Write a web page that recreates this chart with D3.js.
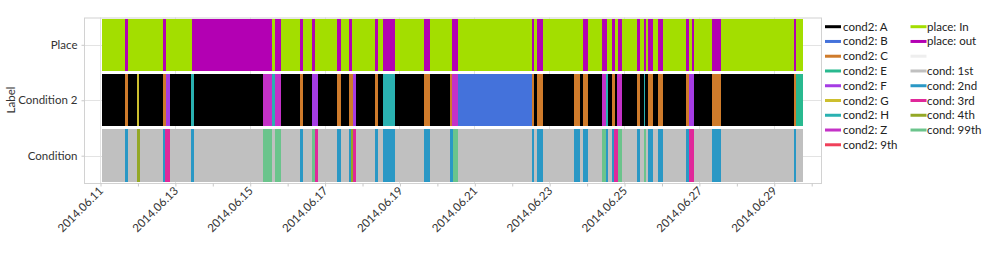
<!DOCTYPE html>
<html>
<head>
<meta charset="utf-8">
<script src="https://cdn.jsdelivr.net/npm/d3@7"></script>
<style>
  html, body { margin: 0; padding: 0; background: #fff; }
  svg { display: block; font-family: Lato, "Noto Sans", sans-serif; }
</style>
</head>
<body>
<svg id="chart" width="998" height="259"></svg>
<script>
// ---------------- DATA ----------------
const rowLabels = ["Place", "Condition 2", "Condition"];
const yTitle = "Label";
const dataEnd = "06-29 18:46";

// change points: [time (2014-MM-DD HH:MM), category]
const placeChanges = [
  ["06-11 01:05","In"],["06-11 16:02","out"],["06-11 17:57","In"],["06-12 16:24","out"],["06-12 18:31","In"],
  ["06-13 10:59","out"],["06-15 14:06","In"],["06-15 16:13","out"],["06-15 19:52","In"],["06-16 08:14","out"],
  ["06-16 10:10","In"],["06-16 16:08","out"],["06-16 17:52","In"],["06-17 08:10","out"],["06-17 10:20","In"],
  ["06-17 15:51","out"],["06-17 17:23","In"],["06-18 08:20","out"],["06-18 10:04","In"],["06-18 13:16","out"],
  ["06-18 21:09","In"],["06-19 15:56","out"],["06-19 19:47","In"],["06-20 09:42","out"],["06-20 13:44","In"],
  ["06-22 12:49","out"],["06-22 14:29","In"],["06-22 16:12","out"],["06-22 20:15","In"],["06-23 21:53","out"],
  ["06-24 01:06","In"],["06-24 09:41","out"],["06-24 12:54","In"],["06-24 16:06","out"],["06-24 18:13","In"],
  ["06-24 19:57","out"],["06-24 22:31","In"],["06-25 08:19","out"],["06-25 10:26","In"],["06-25 12:37","out"],
  ["06-25 14:05","In"],["06-25 15:34","out"],["06-25 18:47","In"],["06-25 21:59","out"],["06-26 00:48","In"],
  ["06-26 15:44","out"],["06-26 17:52","In"],["06-26 19:47","out"],["06-26 20:52","In"],["06-27 08:13","out"],
  ["06-27 13:59","In"],["06-29 12:48","out"],["06-29 14:16","In"]
];

const cond2Changes = [
  ["06-11 01:05","A"],["06-11 16:02","C"],["06-11 17:57","A"],["06-11 23:43","G"],["06-12 01:12","A"],
  ["06-12 16:12","C"],["06-12 18:08","F"],["06-12 20:53","A"],["06-13 10:21","H"],["06-13 12:05","A"],
  ["06-15 08:19","Z"],["06-15 14:29","H"],["06-15 16:13","Z"],["06-15 19:52","A"],["06-16 08:14","C"],
  ["06-16 10:10","A"],["06-16 16:08","F"],["06-16 19:35","A"],["06-17 08:10","C"],["06-17 10:20","A"],
  ["06-17 15:51","C"],["06-17 18:25","F"],["06-17 20:09","A"],["06-18 08:20","C"],["06-18 10:04","A"],
  ["06-18 13:16","H"],["06-18 21:09","A"],["06-19 15:56","C"],["06-19 19:47","A"],["06-20 08:25","C"],
  ["06-20 09:53","Z"],["06-20 13:44","B"],["06-22 12:49","C"],["06-22 14:29","A"],["06-22 16:12","C"],
  ["06-22 20:15","A"],["06-23 16:07","C"],["06-23 19:47","A"],["06-23 21:53","C"],["06-24 01:06","A"],
  ["06-24 09:41","Z"],["06-24 12:27","H"],["06-24 13:55","A"],["06-24 16:06","C"],["06-24 17:54","A"],
  ["06-24 19:30","Z"],["06-24 22:31","A"],["06-25 08:19","C"],["06-25 10:26","A"],["06-25 12:37","C"],
  ["06-25 12:53","H"],["06-25 13:43","A"],["06-25 15:34","C"],["06-25 18:47","A"],["06-25 21:59","C"],
  ["06-26 00:48","A"],["06-26 15:44","C"],["06-26 17:52","F"],["06-26 20:52","A"],["06-27 08:13","C"],
  ["06-27 13:59","A"],["06-29 12:48","C"],["06-29 14:05","E"]
];

const condChanges = [
  ["06-11 01:05","1st"],["06-11 16:02","2nd"],["06-11 18:09","1st"],["06-11 23:32","4th"],["06-12 01:27","1st"],
  ["06-12 16:12","2nd"],["06-12 17:52","3rd"],["06-12 20:53","1st"],["06-13 10:21","2nd"],["06-13 12:05","1st"],
  ["06-15 08:19","99th"],["06-15 14:29","1st"],["06-15 16:13","99th"],["06-15 19:52","1st"],["06-16 08:14","2nd"],
  ["06-16 10:10","1st"],["06-16 16:08","99th"],["06-16 17:40","3rd"],["06-16 19:35","1st"],["06-17 08:10","2nd"],
  ["06-17 10:20","1st"],["06-17 15:51","2nd"],["06-17 16:45","4th"],["06-17 18:02","3rd"],["06-17 20:09","1st"],
  ["06-18 08:20","2nd"],["06-18 10:04","1st"],["06-18 13:16","2nd"],["06-18 21:09","1st"],["06-19 15:56","2nd"],
  ["06-19 19:47","1st"],["06-20 08:25","2nd"],["06-20 10:09","99th"],["06-20 13:44","1st"],["06-22 12:49","2nd"],
  ["06-22 14:29","1st"],["06-22 16:12","2nd"],["06-22 20:15","1st"],["06-23 16:07","2nd"],["06-23 19:47","1st"],
  ["06-23 21:53","2nd"],["06-24 01:06","1st"],["06-24 09:41","99th"],["06-24 12:27","2nd"],["06-24 13:55","1st"],
  ["06-24 16:06","2nd"],["06-24 17:46","3rd"],["06-24 20:20","99th"],["06-24 22:31","1st"],["06-25 08:19","2nd"],
  ["06-25 10:26","1st"],["06-25 12:37","99th"],["06-25 14:05","1st"],["06-25 15:34","2nd"],["06-25 18:47","1st"],
  ["06-25 21:59","2nd"],["06-26 00:48","1st"],["06-26 15:44","2nd"],["06-26 17:52","3rd"],["06-26 20:52","1st"],
  ["06-27 08:13","2nd"],["06-27 13:59","1st"],["06-29 12:48","2nd"],["06-29 14:05","1st"]
];

const xTickStart = "06-11 00:00";
const xTickEnd = "06-30 00:00";

const legendCol1 = ["cond2: A","cond2: B","cond2: C","cond2: E","cond2: F","cond2: G","cond2: H","cond2: Z","cond2: 9th"];
const legendCol2 = ["place: In","place: out","","cond: 1st","cond: 2nd","cond: 3rd","cond: 4th","cond: 99th"];
const colorKeys = ["cond2: A","cond2: B","cond2: C","cond2: E","cond2: F","cond2: G","cond2: H","cond2: Z","cond2: 9th",
                   "place: In","place: out","","cond: 1st","cond: 2nd","cond: 3rd","cond: 4th","cond: 99th"];
const colorVals = ["#000000","#4472db","#cf7b2b","#29b98f","#a53ce4","#cdbf2e","#2ab1b1","#c431c7","#f0405a",
                   "#a3de00","#b300b3","#eeeeee","#c0c0c0","#2a98c5","#e0289a","#94a826","#6bc48c"];

// ---------------- CHART ----------------
const FONT = 'Lato, "Noto Sans", sans-serif';
const FS = "11.5px";
const parse = d3.timeParse("%Y-%m-%d %H:%M");
const P = s => parse("2014-" + s);
const color = d3.scaleOrdinal().domain(colorKeys).range(colorVals);

const svg = d3.select("#chart");
const frame = {left: 84, right: 821, top: 17.5, bottom: 183};

const x = d3.scaleTime().domain([P(xTickStart), P(xTickEnd)]).range([100, 811.2]);
const y = d3.scaleBand().domain(rowLabels).range([frame.top, frame.bottom]).paddingInner(0.055).paddingOuter(0.02);

function segs(changes, prefix, row) {
  return changes.map((c, i) => ({
    row,
    start: P(c[0]),
    end: P(i + 1 < changes.length ? changes[i + 1][0] : dataEnd),
    key: prefix + c[1]
  }));
}
const allSegs = [].concat(
  segs(placeChanges, "place: ", "Place"),
  segs(cond2Changes, "cond2: ", "Condition 2"),
  segs(condChanges, "cond: ", "Condition")
);

// grid
const days = d3.timeDay.range(P(xTickStart), d3.timeDay.offset(P(xTickEnd), 1));
const major = days.filter((d, i) => i % 2 === 0);
const minor = days.filter((d, i) => i % 2 === 1);
const grid = svg.append("g");
grid.selectAll("line.v").data(major).join("line")
  .attr("x1", d => Math.round(x(d)) + 0.5).attr("x2", d => Math.round(x(d)) + 0.5)
  .attr("y1", frame.top).attr("y2", frame.bottom)
  .attr("stroke", "#e3e3e3");
grid.selectAll("line.h").data(rowLabels).join("line")
  .attr("x1", frame.left).attr("x2", frame.right)
  .attr("y1", d => Math.round(y(d) + y.bandwidth() / 2) + 0.5)
  .attr("y2", d => Math.round(y(d) + y.bandwidth() / 2) + 0.5)
  .attr("stroke", "#e3e3e3");

// bars
svg.append("g").selectAll("rect").data(allSegs).join("rect")
  .attr("x", d => x(d.start))
  .attr("width", d => Math.max(0, x(d.end) - x(d.start)))
  .attr("y", d => y(d.row))
  .attr("height", y.bandwidth())
  .attr("fill", d => color(d.key))
  .attr("shape-rendering", "crispEdges");

// frame
svg.append("rect")
  .attr("x", frame.left + 0.5).attr("y", frame.top + 0.5)
  .attr("width", frame.right - frame.left).attr("height", frame.bottom - frame.top)
  .attr("fill", "none").attr("stroke", "#d2d2d2");

// x axis
const fmt = d3.timeFormat("%Y.%m.%d");
const xAxis = svg.append("g").attr("transform", `translate(0.5,${frame.bottom + 0.5})`)
  .call(d3.axisBottom(x).tickValues(major).tickFormat(fmt).tickSizeInner(3).tickSizeOuter(0));
xAxis.select(".domain").remove();
xAxis.selectAll(".tick line").attr("stroke", "#c8c8c8");
xAxis.selectAll(".tick text")
  .attr("fill", "#333").attr("font-size", FS)
  .attr("font-family", FONT)
  .attr("text-anchor", "end")
  .attr("dy", null).attr("y", null)
  .attr("transform", "translate(3,8) rotate(-45)");
const xMinor = svg.append("g").attr("transform", `translate(0.5,${frame.bottom + 0.5})`)
  .call(d3.axisBottom(x).tickValues(minor).tickFormat("").tickSizeInner(3).tickSizeOuter(0));
xMinor.select(".domain").remove();
xMinor.selectAll(".tick line").attr("stroke", "#c8c8c8");

// y axis
const yAxis = svg.append("g").attr("transform", `translate(${frame.left + 0.5},0.5)`)
  .call(d3.axisLeft(y).tickSizeInner(3).tickSizeOuter(0).tickPadding(4));
yAxis.select(".domain").remove();
yAxis.selectAll(".tick line").attr("stroke", "#c8c8c8");
yAxis.selectAll(".tick text").attr("fill", "#333").attr("font-size", FS)
  .attr("font-family", FONT);

svg.append("text").text(yTitle)
  .attr("transform", "translate(15,100) rotate(-90)")
  .attr("text-anchor", "middle").attr("fill", "#333").attr("font-size", FS)
  .attr("font-family", FONT);

// legend
const legend = svg.append("g");
function legendCol(items, sx, tx) {
  const g = legend.append("g");
  items.forEach((k, i) => {
    const cy = 26.7 + i * 14.76;
    g.append("line").attr("x1", sx).attr("x2", sx + 16).attr("y1", cy).attr("y2", cy)
      .attr("stroke", color(k)).attr("stroke-width", 3);
    if (k) g.append("text").text(k).attr("x", tx).attr("y", cy).attr("dy", "0.35em")
      .attr("fill", "#222").attr("font-size", FS).attr("font-family", FONT);
  });
}
legendCol(legendCol1, 825, 843);
legendCol(legendCol2, 910.5, 927);
</script>
</body>
</html>
